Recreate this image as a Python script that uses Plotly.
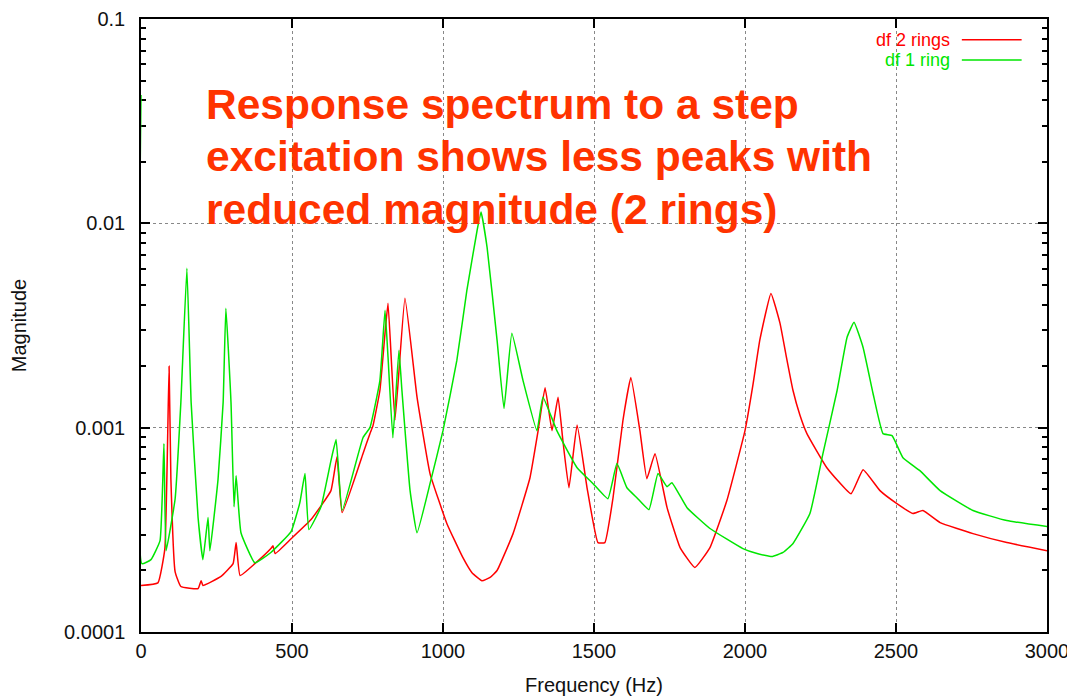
import plotly.graph_objects as go

# df 2 rings (red)
freq_2rings = [0, 56, 79, 93, 99, 113, 132, 189, 199, 205, 265, 305, 315, 328, 377, 430, 437, 444,
               497, 563, 629, 649, 666, 735, 758, 768, 791, 808, 818, 841, 874, 914, 957, 1013,
               1066, 1096, 1129, 1156, 1179, 1232, 1288, 1315, 1338, 1361, 1381, 1397, 1417, 1444,
               1477, 1513, 1536, 1563, 1596, 1622, 1652, 1675, 1702, 1742, 1785, 1834, 1884, 1940,
               2000, 2026, 2049, 2086, 2116, 2136, 2159, 2182, 2205, 2271, 2351, 2391, 2447, 2503,
               2556, 2589, 2646, 2755, 2867, 3000]
mag_2rings = [0.000169, 0.000174, 0.000256, 0.002, 0.000557, 0.000197, 0.000167, 0.000163, 0.000178,
              0.000169, 0.000187, 0.000216, 0.000274, 0.000189, 0.000216, 0.000256, 0.000264, 0.000242,
              0.000286, 0.000355, 0.000492, 0.000721, 0.000384, 0.000746, 0.000935, 0.00102, 0.00152,
              0.0029, 0.00406, 0.00109, 0.0043, 0.00141, 0.000596, 0.000339,
              0.000231, 0.000195, 0.000178, 0.000185, 0.0002, 0.000303, 0.000569, 0.000967, 0.00157,
              0.000967, 0.00141, 0.000864, 0.000508, 0.00103,
              0.000508, 0.000274, 0.000274, 0.000454, 0.00109, 0.00176, 0.000967, 0.000563, 0.000746,
              0.000406, 0.000259, 0.000207, 0.000259, 0.00044,
              0.000967, 0.00161, 0.00268, 0.00454, 0.00324, 0.00226, 0.00152, 0.00115, 0.000935,
              0.000637, 0.000475, 0.000623, 0.000492, 0.000425,
              0.00038, 0.000393, 0.000343, 0.000303, 0.000274, 0.00025]

# df 1 ring (green)
freq_1ring = [0, 3, 33, 63, 76, 83, 113, 132, 152, 166, 189, 205, 222, 228, 255, 272, 281, 298, 308,
              315, 331, 377, 430, 497, 526, 543, 556, 596, 629, 646, 666, 735, 758, 791, 808, 818,
              834, 854, 864, 891, 914, 957, 1000, 1046, 1079, 1113, 1126, 1146, 1179, 1202, 1228,
              1265, 1311, 1331, 1377, 1444, 1497, 1546, 1576, 1609, 1642, 1682, 1712, 1742, 1758,
              1808, 1884, 1993, 2040, 2089, 2126, 2159, 2215, 2258, 2305, 2338, 2361, 2391, 2424,
              2457, 2487, 2523, 2579, 2646, 2755, 2867, 3000]
mag_1ring = [0.0425, 0.000216, 0.000226, 0.00028, 0.000835, 0.00025, 0.000449, 0.00133, 0.00602,
             0.00133, 0.000363, 0.000226, 0.000363, 0.00025, 0.000557, 0.00133, 0.00384, 0.00133,
             0.00041, 0.000582, 0.000306, 0.000218, 0.000245, 0.00031, 0.00043, 0.000596, 0.000317,
             0.00041, 0.00069, 0.000874, 0.000393, 0.000893, 0.001, 0.0017, 0.00375, 0.00221,
             0.000893, 0.00239, 0.00152, 0.000492, 0.000306, 0.000532, 0.000967, 0.00214, 0.0047,
             0.00925, 0.01136, 0.00763, 0.00268, 0.00124, 0.0029,
             0.0017, 0.000967, 0.00141, 0.000967, 0.000637, 0.000532, 0.000449, 0.000667, 0.000508,
             0.000454, 0.000397, 0.000596, 0.000514, 0.000538,
             0.000406, 0.000321, 0.000256, 0.000242, 0.000234, 0.000245, 0.000271, 0.00038, 0.000746,
             0.00152, 0.00277, 0.00328, 0.00247, 0.00147,
             0.000935, 0.000914, 0.000713, 0.000616, 0.000492, 0.000393, 0.000351, 0.000328]

series_names = ["df 2 rings", "df 1 ring"]
series_colors = ["#ff0000", "#00e600"]

x_ticks = [0, 500, 1000, 1500, 2000, 2500, 3000]
y_tickvals = [0.0001, 0.001, 0.01, 0.1]
y_ticktext = ["0.0001", "0.001", "0.01", "0.1"]

note_lines = ["Response spectrum to a step",
              "excitation shows less peaks with",
              "reduced magnitude (2 rings)"]

FONT = "Liberation Sans, Arial, Helvetica, sans-serif"

fig = go.Figure()
fig.add_trace(go.Scatter(x=freq_2rings, y=mag_2rings, mode="lines", name=series_names[0],
                         line=dict(color=series_colors[0], width=1.5, shape="spline", smoothing=0.35),
                         showlegend=False))
fig.add_trace(go.Scatter(x=freq_1ring, y=mag_1ring, mode="lines", name=series_names[1],
                         line=dict(color=series_colors[1], width=1.5, shape="spline", smoothing=0.35),
                         showlegend=False))

axis_common = dict(showline=True, linecolor="black", linewidth=1.5, mirror="allticks",
                   ticks="inside", tickcolor="black", tickwidth=1.5, ticklen=9,
                   showgrid=True, gridcolor="#888888", griddash="dot", gridwidth=1,
                   zeroline=False, layer="below traces",
                   tickfont=dict(family=FONT, size=20, color="#111111"))

fig.update_xaxes(range=[0, 3000], tickvals=x_ticks, **axis_common,
                 title=dict(text="Frequency (Hz)", font=dict(family=FONT, size=20, color="#111111"),
                            standoff=17))
fig.update_yaxes(type="log", range=[-4, -1], tickvals=y_tickvals, ticktext=y_ticktext,
                 ticklabelstandoff=10,
                 minor=dict(ticks="inside", ticklen=5, tickcolor="black", tickwidth=1.5,
                            showgrid=False, dtick="D1"),
                 **axis_common,
                 title=dict(text="Magnitude", font=dict(family=FONT, size=20, color="#111111"),
                            standoff=34))

line_y = [0.860, 0.775, 0.690]
for txt, yy in zip(note_lines, line_y):
    fig.add_annotation(x=0.069, y=yy, xref="paper", yref="paper", text=txt, showarrow=False,
                       xanchor="left", yanchor="middle",
                       font=dict(family=FONT, size=42.5, color="#ff3300", weight="bold"))

# gnuplot-style key: text then line sample
key_y = [0.966, 0.933]
for name, col, yy in zip(series_names, series_colors, key_y):
    fig.add_annotation(x=0.895, y=yy, xref="paper", yref="paper", text=name, showarrow=False,
                       xanchor="right", yanchor="middle",
                       font=dict(family=FONT, size=18, color=col))
    fig.add_shape(type="line", xref="paper", yref="paper", x0=0.906, x1=0.972, y0=yy, y1=yy,
                  line=dict(color=col, width=1.5))

# the page adds an 8px body margin, so the figure is 8px smaller on each axis
fig.update_layout(width=1067, height=689, plot_bgcolor="white", paper_bgcolor="white",
                  margin=dict(l=133, r=28, t=11, b=65, autoexpand=False),
                  font=dict(family=FONT, size=20, color="#111111"))

fig.write_html("out.html")
